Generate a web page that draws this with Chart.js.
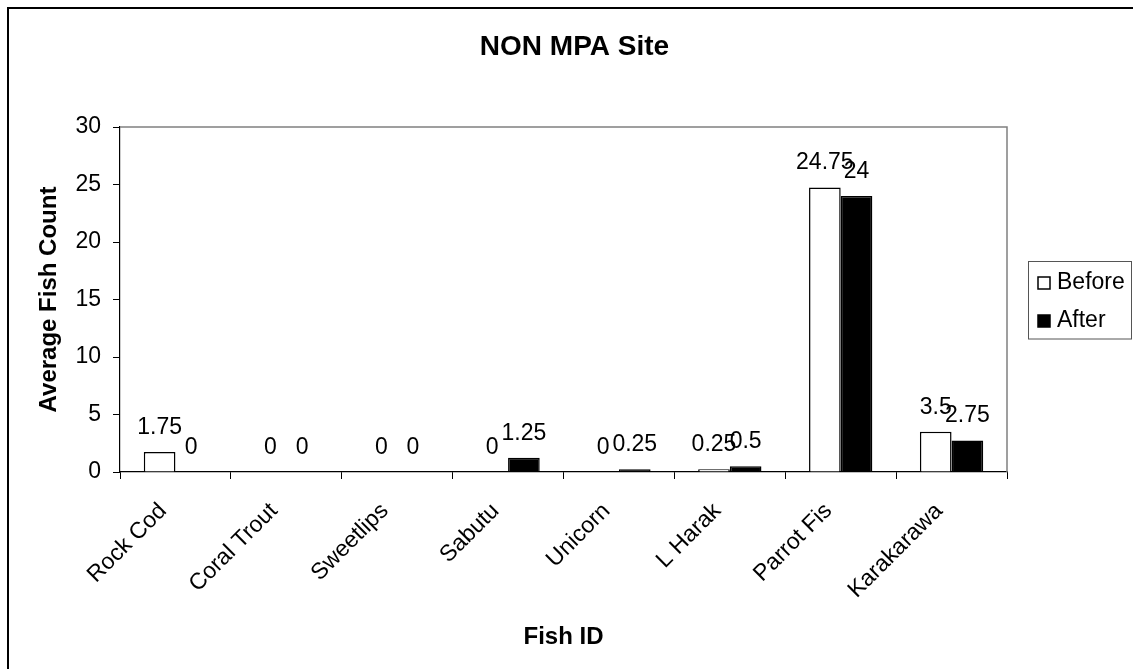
<!DOCTYPE html>
<html>
<head>
<meta charset="utf-8">
<style>
html,body{margin:0;padding:0;background:#fff;}
#c{display:block;}
</style>
<script src="https://cdn.jsdelivr.net/npm/chart.js@4.4.0/dist/chart.umd.min.js"></script>
</head>
<body>
<canvas id="c" width="1133" height="669"></canvas>
<script>
const categories = ['Rock Cod','Coral Trout','Sweetlips','Sabutu','Unicorn','L Harak','Parrot Fis','Karakarawa'];
const beforeValues = [1.75, 0, 0, 0, 0, 0.25, 24.75, 3.5];
const afterValues = [0, 0, 0, 1.25, 0.25, 0.5, 24, 2.75];
const seriesNames = ['Before', 'After'];
const yTicks = [0, 5, 10, 15, 20, 25, 30];

const FONT = "'Liberation Sans', Arial, sans-serif";
Chart.defaults.font.family = FONT;
Chart.defaults.color = '#000';

const framePlugin = {
  id: 'frame',
  beforeDraw(chart) {
    const ctx = chart.ctx;
    ctx.save();
    ctx.fillStyle = '#fff';
    ctx.fillRect(0, 0, chart.width, chart.height);
    ctx.strokeStyle = '#000';
    ctx.lineWidth = 2;
    ctx.beginPath();
    ctx.moveTo(8, chart.height);
    ctx.lineTo(8, 8);
    ctx.lineTo(chart.width, 8);
    ctx.stroke();
    ctx.restore();
  },
  afterLayout(chart) {
    if (chart.titleBlock) {
      chart.titleBlock.left = 16;
      chart.titleBlock.right = chart.width;
    }
  },
  beforeDatasetsDraw(chart) {
    const a = chart.chartArea;
    const ctx = chart.ctx;
    ctx.save();
    ctx.strokeStyle = '#808080';
    ctx.lineWidth = 1.5;
    ctx.beginPath();
    ctx.moveTo(a.left, a.top);
    ctx.lineTo(a.right, a.top);
    ctx.lineTo(a.right, a.bottom);
    ctx.stroke();
    ctx.restore();
  },
  afterDatasetsDraw(chart) {
    const ctx = chart.ctx;
    ctx.save();
    ctx.font = '23px ' + FONT;
    ctx.fillStyle = '#000';
    ctx.textAlign = 'center';
    ctx.textBaseline = 'alphabetic';
    chart.data.datasets.forEach((ds, i) => {
      const meta = chart.getDatasetMeta(i);
      meta.data.forEach((el, j) => {
        ctx.fillText(String(ds.data[j]), el.x, el.y - 18);
      });
    });
    ctx.restore();
  },
  afterDraw(chart) {
    const ctx = chart.ctx;
    ctx.save();
    const bx = 1028.5, by = 261.5, bw = 103, bh = 77.5;
    ctx.strokeStyle = '#555';
    ctx.lineWidth = 1;
    ctx.strokeRect(bx, by, bw, bh);
    ctx.font = '23px ' + FONT;
    ctx.textBaseline = 'alphabetic';
    ctx.textAlign = 'left';
    chart.data.datasets.forEach((ds, i) => {
      const base = 289 + i * 38;
      ctx.fillStyle = ds.backgroundColor;
      ctx.fillRect(1038, base - 12, 12, 12);
      ctx.strokeStyle = '#000';
      ctx.lineWidth = 1.5;
      ctx.strokeRect(1038, base - 12, 12, 12);
      ctx.fillStyle = '#000';
      ctx.fillText(ds.label, 1057, base);
    });
    ctx.restore();
  }
};

new Chart(document.getElementById('c'), {
  type: 'bar',
  data: {
    labels: categories,
    datasets: [
      { label: seriesNames[0], data: beforeValues, backgroundColor: '#ffffff', borderColor: '#000', borderWidth: 1.5 },
      { label: seriesNames[1], data: afterValues, backgroundColor: '#000000', borderColor: '#000', borderWidth: 1.5 }
    ]
  },
  options: {
    responsive: false,
    animation: false,
    devicePixelRatio: 1,
    layout: { padding: { left: 0, right: 126, top: 0, bottom: 0 } },
    datasets: { bar: { categoryPercentage: 0.571, barPercentage: 1.0 } },
    plugins: {
      legend: { display: false },
      tooltip: { enabled: false },
      title: {
        display: true,
        text: 'NON MPA Site',
        color: '#000',
        font: { size: 28, weight: 'bold', family: FONT, lineHeight: 1.2 },
        padding: { top: 30, bottom: 63.4 }
      }
    },
    scales: {
      x: {
        afterFit(s) { s.height = 197; },
        grid: { drawOnChartArea: false, drawTicks: true, tickLength: 7, color: '#000', offset: true },
        border: { display: true, color: '#000', width: 1.2 },
        ticks: {
          autoSkip: false, minRotation: 45, maxRotation: 45,
          padding: 18.6, labelOffset: -12.4,
          color: '#000', font: { size: 23, family: FONT }
        },
        title: {
          display: true, text: 'Fish ID', color: '#000',
          font: { size: 24, weight: 'bold', family: FONT, lineHeight: 1.2 },
          padding: { top: 0, bottom: 17.6 }
        }
      },
      y: {
        min: 0, max: 30,
        afterFit(s) { s.width = 120; },
        afterBuildTicks(s) { s.ticks = yTicks.map(v => ({ value: v })); },
        grid: { drawOnChartArea: false, drawTicks: true, tickLength: 7, color: '#000' },
        border: { display: true, color: '#000', width: 1.2 },
        ticks: { padding: 12, color: '#000', font: { size: 23, family: FONT } },
        title: {
          display: true, text: 'Average Fish Count', color: '#000',
          font: { size: 24, weight: 'bold', family: FONT, lineHeight: 1.2 },
          padding: { top: 34.6, bottom: 0 }
        }
      }
    }
  },
  plugins: [framePlugin]
});
</script>
</body>
</html>
